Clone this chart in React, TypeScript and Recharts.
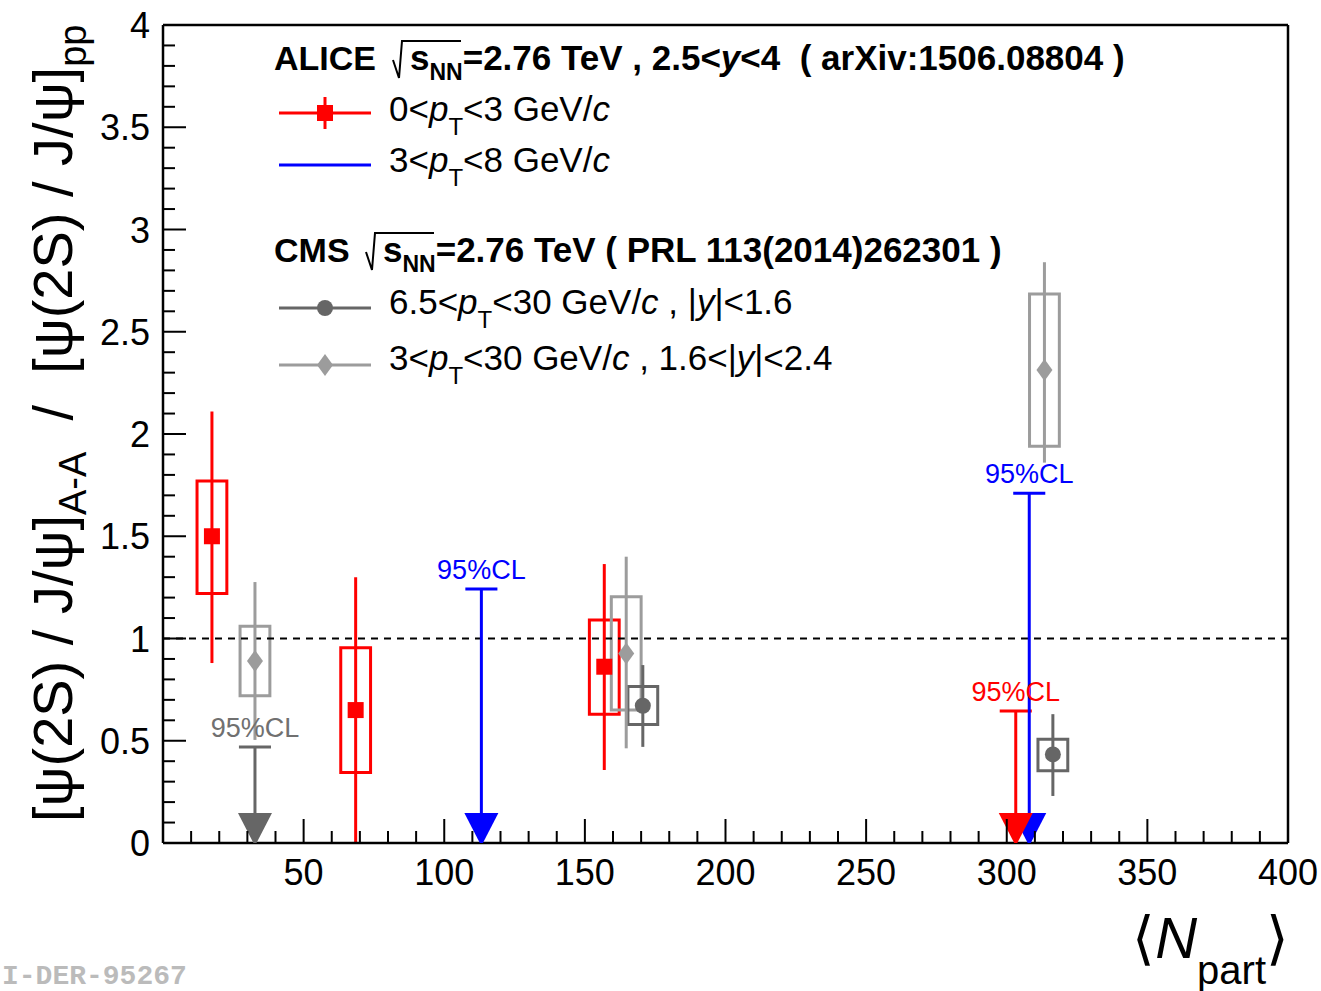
import React from "react";
import {
  ComposedChart,
  Scatter,
  XAxis,
  YAxis,
  ErrorBar,
  ReferenceArea,
  ReferenceLine,
} from "recharts";

// ALICE 0<pT<3 GeV/c
const aliceLowNpart = [17.4, 68.5, 156.9];
const aliceLowRatio = [1.5, 0.65, 0.862];
const aliceLowStatLow = [0.88, 0.0, 0.357];
const aliceLowStatHigh = [2.11, 1.3, 1.364];
const aliceLowSysLow = [1.22, 0.345, 0.63];
const aliceLowSysHigh = [1.77, 0.955, 1.09];
const aliceLowLimitNpart = [303.2];
const aliceLowLimit = [0.645];

// ALICE 3<pT<8 GeV/c (upper limits only)
const aliceHighLimitNpart = [113.2, 308];
const aliceHighLimit = [1.242, 1.71];

// CMS 6.5<pT<30 GeV/c, |y|<1.6
const cmsMidNpart = [170.6, 316.4];
const cmsMidRatio = [0.671, 0.433];
const cmsMidStatLow = [0.47, 0.23];
const cmsMidStatHigh = [0.87, 0.63];
const cmsMidSysLow = [0.58, 0.353];
const cmsMidSysHigh = [0.765, 0.507];
const cmsMidLimitNpart = [32.7];
const cmsMidLimit = [0.47];

// CMS 3<pT<30 GeV/c, 1.6<|y|<2.4
const cmsFwdNpart = [32.7, 164.7, 313.4];
const cmsFwdRatio = [0.89, 0.927, 2.313];
const cmsFwdStatLow = [0.504, 0.463, 1.86];
const cmsFwdStatHigh = [1.276, 1.4, 2.84];
const cmsFwdSysLow = [0.72, 0.65, 1.94];
const cmsFwdSysHigh = [1.06, 1.204, 2.685];

const xTickLabels = [50, 100, 150, 200, 250, 300, 350, 400];
const yTickLabels = [0, 0.5, 1, 1.5, 2, 2.5, 3, 3.5, 4];

const RED = "#ff0000";
const BLUE = "#0000ff";
const DARK = "#666666";
const LIGHT = "#9c9c9c";
const FONT = "'Liberation Sans', Arial, Helvetica, sans-serif";

const BOX_HALF = 5.3;
const CAP_HALF = 5.7;

const toPoints = (xs: number[], ys: number[], lo: number[], hi: number[]) =>
  xs.map((x, i) => ({ x, y: ys[i], err: [ys[i] - lo[i], hi[i] - ys[i]] }));

const toLimits = (xs: number[], ys: number[]) =>
  xs.map((x, i) => ({ x, y: 0, limit: ys[i] }));

const aliceLow = toPoints(aliceLowNpart, aliceLowRatio, aliceLowStatLow, aliceLowStatHigh);
const cmsMid = toPoints(cmsMidNpart, cmsMidRatio, cmsMidStatLow, cmsMidStatHigh);
const cmsFwd = toPoints(cmsFwdNpart, cmsFwdRatio, cmsFwdStatLow, cmsFwdStatHigh);

const aliceLowLimits = toLimits(aliceLowLimitNpart, aliceLowLimit);
const aliceHighLimits = toLimits(aliceHighLimitNpart, aliceHighLimit);
const cmsMidLimits = toLimits(cmsMidLimitNpart, cmsMidLimit);

// minor ticks every 10 in x, 0.1 in y
const xTicks = Array.from({ length: 40 }, (_, i) => (i + 1) * 10);
const yTicks = Array.from({ length: 41 }, (_, i) => i / 10);

const XTick = (props: any) => {
  const { x, y, payload } = props;
  const v = payload.value;
  const major = xTickLabels.includes(v);
  return (
    <g>
      <line x1={x} y1={y} x2={x} y2={y - (major ? 24 : 12)} stroke="#000" strokeWidth={2} />
      {major && (
        <text x={x} y={y + 42} textAnchor="middle" fontSize={36} fill="#000" fontFamily={FONT}>
          {v}
        </text>
      )}
    </g>
  );
};

const YTick = (props: any) => {
  const { x, y, payload } = props;
  const v = payload.value;
  const major = yTickLabels.some((t) => Math.abs(t - v) < 1e-6);
  return (
    <g>
      <line x1={x} y1={y} x2={x + (major ? 23 : 12)} y2={y} stroke="#000" strokeWidth={2} />
      {major && (
        <text x={x - 13} y={y + 13} textAnchor="end" fontSize={36} fill="#000" fontFamily={FONT}>
          {Math.round(v * 10) / 10}
        </text>
      )}
    </g>
  );
};

const SquareMarker = (props: any) => (
  <rect x={props.cx - 8} y={props.cy - 8} width={16} height={16} fill={RED} />
);
const CircleMarker = (props: any) => <circle cx={props.cx} cy={props.cy} r={8} fill={DARK} />;
const DiamondMarker = (props: any) => {
  const { cx, cy } = props;
  return (
    <polygon points={`${cx},${cy - 11} ${cx + 8},${cy} ${cx},${cy + 11} ${cx - 8},${cy}`} fill={LIGHT} />
  );
};
const arrowHead = (color: string) => (props: any) => {
  const { cx, cy } = props;
  return (
    <polygon points={`${cx - 17},${cy - 30} ${cx + 17},${cy - 30} ${cx},${cy + 3}`} fill={color} />
  );
};

function sysBoxes(pts: { x: number }[], lo: number[], hi: number[], color: string, key: string) {
  return pts.map((p, i) => (
    <ReferenceArea
      key={`${key}-${i}`}
      x1={p.x - BOX_HALF}
      x2={p.x + BOX_HALF}
      y1={lo[i]}
      y2={hi[i]}
      fill="none"
      fillOpacity={0}
      stroke={color}
      strokeWidth={3}
    />
  ));
}

function limitLines(pts: { x: number; limit: number }[], color: string, labelColor: string, key: string) {
  return pts.flatMap((p, i) => [
    <ReferenceLine
      key={`${key}-v-${i}`}
      segment={[
        { x: p.x, y: 0.1 },
        { x: p.x, y: p.limit },
      ]}
      stroke={color}
      strokeWidth={3}
    />,
    <ReferenceLine
      key={`${key}-c-${i}`}
      segment={[
        { x: p.x - CAP_HALF, y: p.limit },
        { x: p.x + CAP_HALF, y: p.limit },
      ]}
      stroke={color}
      strokeWidth={3}
      label={{ value: "95%CL", position: "top", fill: labelColor, fontSize: 27, offset: 10, fontFamily: FONT }}
    />,
  ]);
}

function Overlay() {
  const pre = { whiteSpace: "pre" as const };
  return (
    <svg
      width={1321}
      height={991}
      style={{ position: "absolute", left: 0, top: 0, pointerEvents: "none" }}
      fontFamily={FONT}
    >
      {/* ALICE header */}
      <text x={274} y={70} fontSize={34} fontWeight="bold">ALICE</text>
      <path d="M393,60 L399,78 L402,41 L461,41" stroke="#000" strokeWidth={2} fill="none" />
      <text x={410} y={70} fontSize={35} fontWeight="bold" style={pre}>
        s<tspan fontSize={23} dy={10}>NN</tspan>
        <tspan dy={-10}>{"=2.76 TeV , 2.5<"}</tspan>
        <tspan fontStyle="italic">y</tspan>
        {"<4  ( arXiv:1506.08804 )"}
      </text>

      {/* ALICE entries */}
      <line x1={279} y1={113} x2={371} y2={113} stroke={RED} strokeWidth={3} />
      <line x1={325} y1={97} x2={325} y2={129} stroke={RED} strokeWidth={3} />
      <rect x={317} y={105} width={16} height={16} fill={RED} />
      <text x={389} y={121} fontSize={35} style={pre}>
        {"0<"}<tspan fontStyle="italic">p</tspan>
        <tspan fontSize={24} dy={14}>T</tspan>
        <tspan dy={-14}>{"<3 GeV/"}</tspan>
        <tspan fontStyle="italic">c</tspan>
      </text>
      <line x1={279} y1={165} x2={371} y2={165} stroke={BLUE} strokeWidth={3} />
      <text x={389} y={172} fontSize={35} style={pre}>
        {"3<"}<tspan fontStyle="italic">p</tspan>
        <tspan fontSize={24} dy={14}>T</tspan>
        <tspan dy={-14}>{"<8 GeV/"}</tspan>
        <tspan fontStyle="italic">c</tspan>
      </text>

      {/* CMS header */}
      <text x={274} y={262} fontSize={34} fontWeight="bold">CMS</text>
      <path d="M366,252 L372,270 L375,233 L434,233" stroke="#000" strokeWidth={2} fill="none" />
      <text x={383} y={262} fontSize={35} fontWeight="bold" style={pre}>
        s<tspan fontSize={23} dy={10}>NN</tspan>
        <tspan dy={-10}>{"=2.76 TeV ( PRL 113(2014)262301 )"}</tspan>
      </text>

      {/* CMS entries */}
      <line x1={279} y1={308} x2={371} y2={308} stroke={DARK} strokeWidth={3} />
      <circle cx={325} cy={308} r={8} fill={DARK} />
      <text x={389} y={314} fontSize={35} style={pre}>
        {"6.5<"}<tspan fontStyle="italic">p</tspan>
        <tspan fontSize={24} dy={14}>T</tspan>
        <tspan dy={-14}>{"<30 GeV/"}</tspan>
        <tspan fontStyle="italic">c</tspan>
        {" , |"}
        <tspan fontStyle="italic">y</tspan>
        {"|<1.6"}
      </text>
      <line x1={279} y1={365} x2={371} y2={365} stroke={LIGHT} strokeWidth={3} />
      <polygon points="325,354 333,365 325,376 317,365" fill={LIGHT} />
      <text x={389} y={370} fontSize={35} style={pre}>
        {"3<"}<tspan fontStyle="italic">p</tspan>
        <tspan fontSize={24} dy={14}>T</tspan>
        <tspan dy={-14}>{"<30 GeV/"}</tspan>
        <tspan fontStyle="italic">c</tspan>
        {" , 1.6<|"}
        <tspan fontStyle="italic">y</tspan>
        {"|<2.4"}
      </text>

      {/* y axis title */}
      <text transform="translate(72,822) rotate(-90)" fontSize={56} style={pre}>
        {"[\u03c8(2S) / J/\u03c8]"}
        <tspan fontSize={38} dy={14}>A-A</tspan>
        <tspan dy={-14}>{"  /  [\u03c8(2S) / J/\u03c8]"}</tspan>
        <tspan fontSize={38} dy={14}>pp</tspan>
      </text>

      {/* x axis title */}
      <text x={1289} y={958} fontSize={58} textAnchor="end">
        {"\u27e8"}
        <tspan fontStyle="italic">N</tspan>
        <tspan fontSize={40} dy={26}>part</tspan>
        <tspan dy={-26}>{"\u27e9"}</tspan>
      </text>

      <text
        x={2}
        y={984}
        fontSize={28}
        fontWeight="bold"
        fill="#bbbbbb"
        fontFamily="'Liberation Mono', 'DejaVu Sans Mono', monospace"
      >
        I-DER-95267
      </text>
    </svg>
  );
}

export default function App() {
  return (
    <div style={{ position: "absolute", left: 0, top: 0, width: 1321, height: 991, background: "#fff" }}>
      <ComposedChart
        width={1321}
        height={991}
        margin={{ top: 24, right: 32, left: 103, bottom: 88 }}
        style={{ fontFamily: FONT }}
      >
        <XAxis
          type="number"
          dataKey="x"
          domain={[0, 400]}
          allowDataOverflow
          ticks={xTicks}
          interval={0}
          tick={<XTick />}
          tickLine={false}
          tickSize={0}
          tickMargin={0}
          height={60}
          axisLine={{ stroke: "#000", strokeWidth: 2.5 }}
        />
        <XAxis
          xAxisId="top"
          orientation="top"
          type="number"
          domain={[0, 400]}
          tick={false}
          tickLine={false}
          height={1}
          axisLine={{ stroke: "#000", strokeWidth: 2.5 }}
        />
        <YAxis
          type="number"
          dataKey="y"
          domain={[0, 4]}
          allowDataOverflow
          ticks={yTicks}
          interval={0}
          tick={<YTick />}
          tickLine={false}
          tickSize={0}
          tickMargin={0}
          width={60}
          axisLine={{ stroke: "#000", strokeWidth: 2.5 }}
        />
        <YAxis
          yAxisId="right"
          orientation="right"
          type="number"
          domain={[0, 4]}
          tick={false}
          tickLine={false}
          width={1}
          axisLine={{ stroke: "#000", strokeWidth: 2.5 }}
        />

        <ReferenceLine y={1} stroke="#000" strokeWidth={1.8} strokeDasharray="7 6" />

        {sysBoxes(aliceLow, aliceLowSysLow, aliceLowSysHigh, RED, "al")}
        {sysBoxes(cmsFwd, cmsFwdSysLow, cmsFwdSysHigh, LIGHT, "cf")}
        {sysBoxes(cmsMid, cmsMidSysLow, cmsMidSysHigh, DARK, "cm")}

        {limitLines(cmsMidLimits, DARK, "#707070", "lm")}
        {limitLines(aliceLowLimits, RED, RED, "ll")}
        {limitLines(aliceHighLimits, BLUE, BLUE, "lh")}

        <Scatter data={cmsFwd} shape={<DiamondMarker />} isAnimationActive={false}>
          <ErrorBar dataKey="err" direction="y" width={0} stroke={LIGHT} strokeWidth={3} />
        </Scatter>
        <Scatter data={cmsMid} shape={<CircleMarker />} isAnimationActive={false}>
          <ErrorBar dataKey="err" direction="y" width={0} stroke={DARK} strokeWidth={3} />
        </Scatter>
        <Scatter data={aliceLow} shape={<SquareMarker />} isAnimationActive={false}>
          <ErrorBar dataKey="err" direction="y" width={0} stroke={RED} strokeWidth={3} />
        </Scatter>

        <Scatter data={cmsMidLimits} shape={arrowHead(DARK)} isAnimationActive={false} />
        <Scatter data={aliceHighLimits} shape={arrowHead(BLUE)} isAnimationActive={false} />
        <Scatter data={aliceLowLimits} shape={arrowHead(RED)} isAnimationActive={false} />
      </ComposedChart>
      <Overlay />
    </div>
  );
}
